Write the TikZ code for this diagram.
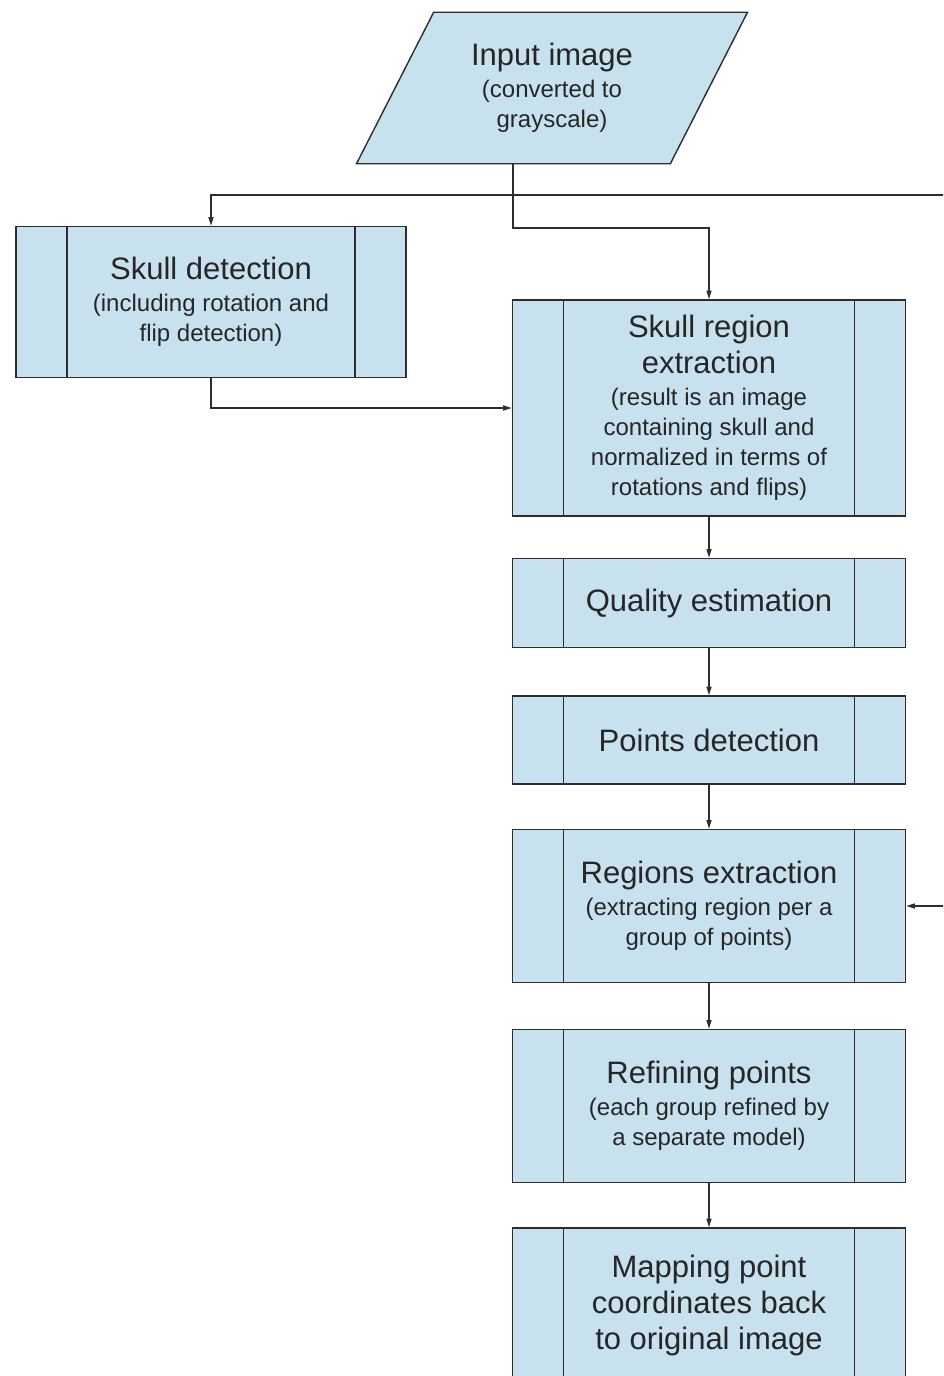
\documentclass[tikz,border=0pt]{standalone}
\usepackage{fontspec}
\setmainfont{Liberation Sans}
\usetikzlibrary{arrows.meta,shapes.geometric}

\definecolor{boxblue}{RGB}{200,225,239}
\definecolor{linegray}{RGB}{45,45,45}
\newcommand{\boxtitle}[1]{{\fontsize{31}{36}\selectfont #1}}

\begin{document}
\begin{tikzpicture}[x=1pt, y=-1pt, line width=1.4pt, draw=linegray,
	>={Triangle[angle=32:9pt]},
	procbox/.style={draw=linegray, fill=boxblue, minimum width=393, minimum height=#1,
		inner sep=0pt, align=center, text=black!85, font=\fontsize{24}{30}\selectfont,
		path picture={\draw[linegray, line width=1.4pt]
			([xshift=51pt]path picture bounding box.north west) -- ([xshift=51pt]path picture bounding box.south west)
			([xshift=-51pt]path picture bounding box.north east) -- ([xshift=-51pt]path picture bounding box.south east);}},
	inbox/.style={trapezium, trapezium left angle=63, trapezium right angle=117,
		trapezium stretches body=true, draw=linegray, fill=boxblue, minimum width=391,
		inner xsep=0pt, inner ysep=31pt, align=center, text=black!85, font=\fontsize{24}{30}\selectfont}]
	\path[use as bounding box, clip] (0,0) rectangle (943,1376);
	\node[inbox] (input) at (552,88) {\boxtitle{Input image}\\[2pt] (converted to\\ grayscale)};
	\node[procbox=151, minimum width=390] (skull) at (211,302) {\boxtitle{Skull detection}\\[2pt] (including rotation and\\ flip detection)};
	\node[procbox=216] (region) at (709,408) {\boxtitle{Skull region}\\[6pt] \boxtitle{extraction}\\[2pt] (result is an image\\ containing skull and\\ normalized in terms of\\ rotations and flips)};
	\node[procbox=89] (quality) at (709,603) {\boxtitle{Quality estimation}};
	\node[procbox=88] (points) at (709,740) {\boxtitle{Points detection}};
	\node[procbox=153] (regions) at (709,906) {\boxtitle{Regions extraction}\\[2pt] (extracting region per a\\ group of points)};
	\node[procbox=153] (refining) at (709,1106) {\boxtitle{Refining points}\\[2pt] (each group refined by\\ a separate model)};
	\node[procbox=154] (mapping) at (709,1305) {\boxtitle{Mapping point}\\[6pt] \boxtitle{coordinates back}\\[6pt] \boxtitle{to original image}};
	\coordinate (split) at (input.bottom side |- 0,195);
	\coordinate (loop) at (975,195);
	\draw (input.bottom side) -- (split);
	\draw[->] (split) -| (skull.north);
	\draw[->] (split) -- ++(0,33) -| (region.north);
	\draw[->] (split) -- (loop) |- (regions.east);
	\draw[->] (skull.south) |- (region.west);
	\draw[->] (region) -- (quality);
	\draw[->] (quality) -- (points);
	\draw[->] (points) -- (regions);
	\draw[->] (regions) -- (refining);
	\draw[->] (refining) -- (mapping);
\end{tikzpicture}
\end{document}
